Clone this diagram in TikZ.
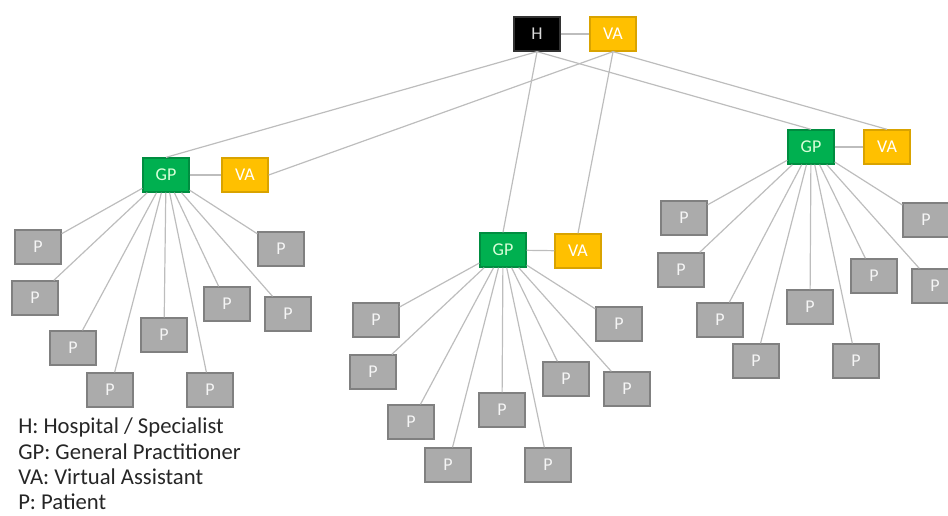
\documentclass[tikz,border=0pt]{standalone}
\usepackage{fontspec}
\setmainfont{Carlito}
\definecolor{vayellow}{HTML}{FFC000}
\definecolor{gpgreen}{HTML}{00B050}
\definecolor{pgray}{HTML}{ABABAB}
\definecolor{linegray}{HTML}{BDBDBD}
\begin{document}
\begin{tikzpicture}[x=0.75pt,y=-0.75pt,
  box/.style={draw, line width=1pt, minimum width=34.5pt, minimum height=25.5pt,
    inner sep=0pt, font=\fontsize{13.5}{13.5}\selectfont},
  hosp/.style={box, fill=black, draw=black!80, text=white!85!black},
  assist/.style={box, fill=vayellow, draw=vayellow!85!black, text=white},
  gp/.style={box, fill=gpgreen, draw=gpgreen!80!black, text=white!85!green},
  pat/.style={box, fill=pgray, draw=pgray!75!black, text=white!92!gray},
  link/.style={draw=linegray, line width=0.9pt},
  legend/.style={anchor=base west, inner sep=0pt,
    font=\fontsize{17}{20}\selectfont, text=black!85}
]
\useasboundingbox (0,0) rectangle (948,515);

% hospital and its virtual assistant
\node[hosp]   (h)  at (537,34) {H};
\node[assist] (va) at (613,34) {VA};

% general practitioners with their assistants
\node[gp]     (gl)  at (166,175) {GP};
\node[assist] (val) at (245,175) {VA};
\node[gp]     (gc)  at (503,250) {GP};
\node[assist] (vac) at (578,251) {VA};
\node[gp]     (gr)  at (811,147) {GP};
\node[assist] (var) at (887,147) {VA};

% patients of the left practice
\foreach \n/\x/\y in {1/38/247, 2/35/298, 3/73/348, 4/110/390, 5/164/335,
                      6/210/390, 7/227/304, 8/281/249, 9/288/314}
  \node[pat] (l\n) at (\x,\y) {P};
% patients of the centre practice
\foreach \n/\x/\y in {1/376/320, 2/373/372, 3/411/422, 4/448/465, 5/502/410,
                      6/548/465, 7/566/379, 8/619/324, 9/627/389}
  \node[pat] (c\n) at (\x,\y) {P};
% patients of the right practice
\foreach \n/\x/\y in {1/684/218, 2/681/270, 3/720/320, 4/756/361, 5/810/307,
                      6/856/361, 7/874/276, 8/926/220, 9/935/286}
  \node[pat] (r\n) at (\x,\y) {P};

% connections
\draw[link] (h) -- (va);
\draw[link] (gl) -- (val);
\draw[link] (gc) -- (vac);
\draw[link] (gr) -- (var);

\draw[link] (h.south) -- (gl.north);
\draw[link] (h.south) -- (gc.north);
\draw[link] (h.south) -- (gr.north);
\draw[link] (va.south) -- (val.east);
\draw[link] (va.south) -- (vac.north);
\draw[link] (va.south) -- (var.north);

\foreach \n in {1,...,9} {
  \draw[link] (gl) -- (l\n);
  \draw[link] (gc) -- (c\n);
  \draw[link] (gr) -- (r\n);
}

% legend
\node[legend] (k1) at (18,433.5) {H: Hospital / Specialist};
\node[legend] (k2) at (18,459)   {GP: General Practitioner};
\node[legend] (k3) at (18,484.5) {VA: Virtual Assistant};
\node[legend] (k4) at (18,509.5) {P: Patient};
\end{tikzpicture}
\end{document}
